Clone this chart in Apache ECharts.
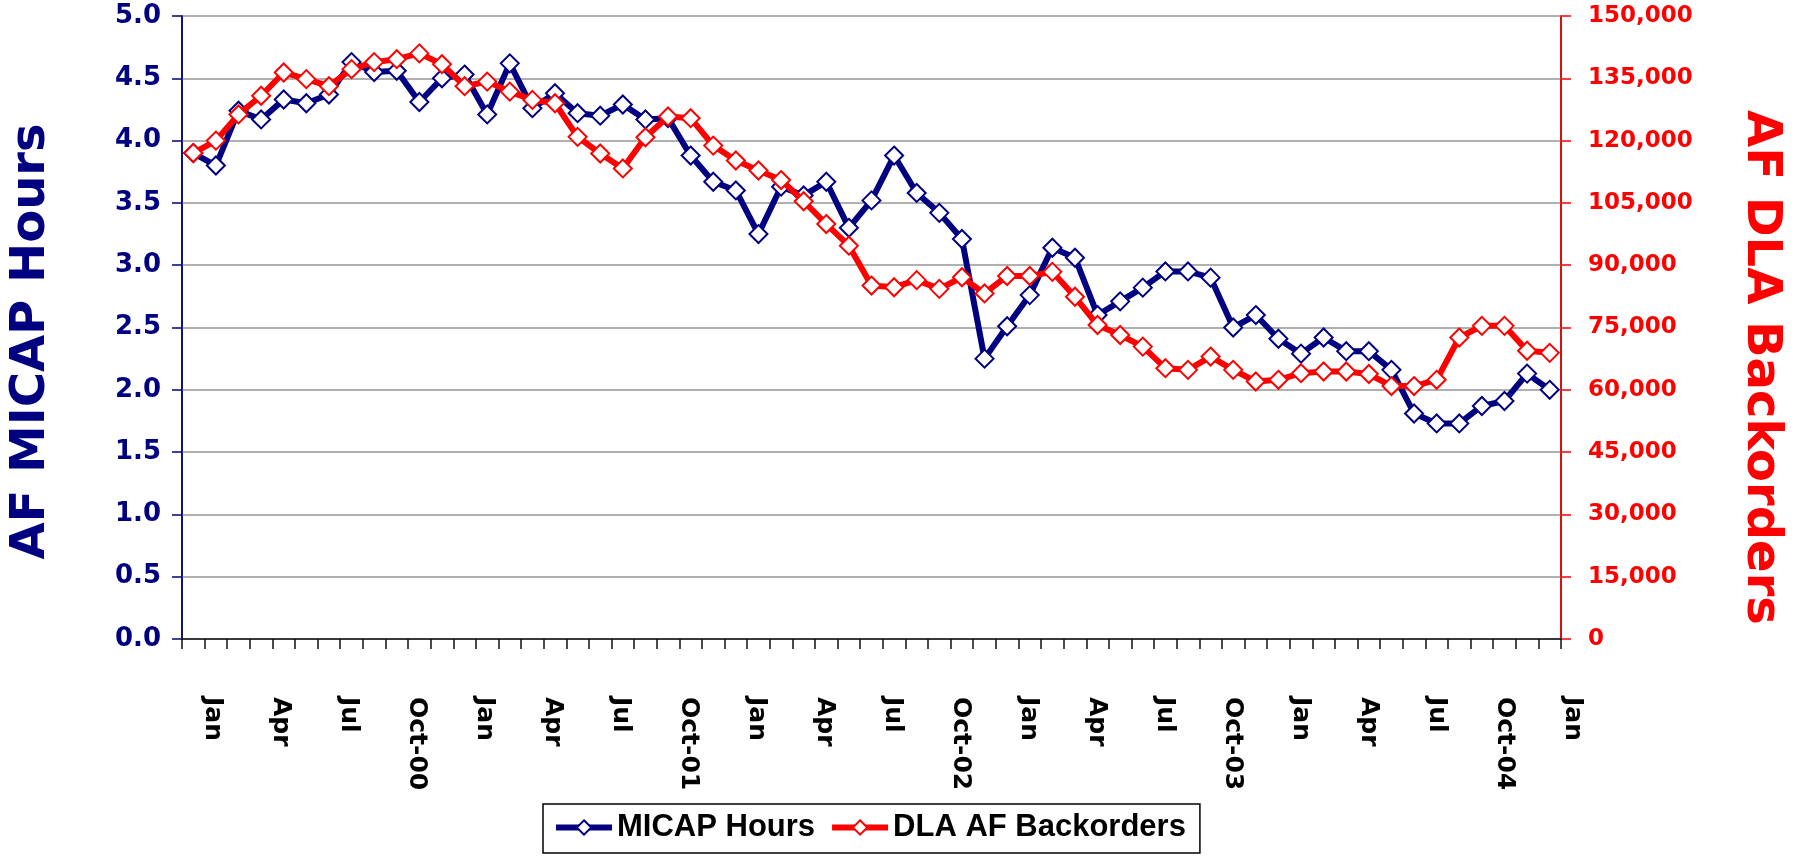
<!DOCTYPE html>
<html>
<head>
<meta charset="utf-8">
<script src="https://cdn.jsdelivr.net/npm/echarts@6/dist/echarts.min.js"></script>
<style>
  html, body { margin: 0; padding: 0; background: #fff; }
  #chart { width: 1800px; height: 856px; }
</style>
</head>
<body>
<div id="chart"></div>
<script>
// month categories, Dec-99 .. Jan-05 (last one only carries a label)
const months = [
  'Dec-99',
  'Jan-00', 'Feb-00', 'Mar-00', 'Apr-00', 'May-00', 'Jun-00', 'Jul-00', 'Aug-00', 'Sep-00', 'Oct-00', 'Nov-00', 'Dec-00',
  'Jan-01', 'Feb-01', 'Mar-01', 'Apr-01', 'May-01', 'Jun-01', 'Jul-01', 'Aug-01', 'Sep-01', 'Oct-01', 'Nov-01', 'Dec-01',
  'Jan-02', 'Feb-02', 'Mar-02', 'Apr-02', 'May-02', 'Jun-02', 'Jul-02', 'Aug-02', 'Sep-02', 'Oct-02', 'Nov-02', 'Dec-02',
  'Jan-03', 'Feb-03', 'Mar-03', 'Apr-03', 'May-03', 'Jun-03', 'Jul-03', 'Aug-03', 'Sep-03', 'Oct-03', 'Nov-03', 'Dec-03',
  'Jan-04', 'Feb-04', 'Mar-04', 'Apr-04', 'May-04', 'Jun-04', 'Jul-04', 'Aug-04', 'Sep-04', 'Oct-04', 'Nov-04', 'Dec-04',
  'Jan-05',
]

// AF MICAP hours (left axis)
const micapHours = [
  3.90,
  3.80, 4.24, 4.17, 4.33, 4.30, 4.37, 4.63, 4.55, 4.56, 4.31, 4.50, 4.53,
  4.21, 4.62, 4.26, 4.38, 4.22, 4.20, 4.29, 4.17, 4.18, 3.88, 3.67, 3.60,
  3.25, 3.63, 3.56, 3.67, 3.30, 3.52, 3.88, 3.58, 3.42, 3.21, 2.25, 2.51,
  2.76, 3.14, 3.06, 2.60, 2.71, 2.82, 2.95, 2.95, 2.90, 2.50, 2.60, 2.41,
  2.29, 2.42, 2.31, 2.31, 2.16, 1.81, 1.73, 1.73, 1.87, 1.91, 2.13, 2.00,
]

// DLA AF backorders (right axis)
const dlaBackorders = [
  117000,
  120000, 126300, 130800, 136400, 134800, 133100, 137200, 138900, 139600, 141000, 138400, 133100,
  134200, 131800, 129800, 129000, 120900, 116900, 113300, 120800, 125800, 125400, 118800, 115200,
  112800, 110500, 105400, 99900, 94700, 85100, 84700, 86400, 84300, 87100, 83200, 87400,
  87400, 88400, 82400, 75600, 73200, 70400, 65200, 64800, 68000, 64800, 62000, 62400,
  64000, 64400, 64400, 63800, 60900, 60900, 62400, 72600, 75400, 75400, 69400, 68900,
]

const NAVY = '#000080'
const RED = '#ff0000'
const FONT = 'DejaVu Sans'

const chart = echarts.init(document.getElementById('chart'))

// plot area: x 179..1561, y 16..639 ; 61 categories
const catWidth = (1561 - 179) / micapHours.length

function monthLabel(v) {
  const [m, y] = v.split('-')
  return m === 'Oct' ? 'Oct-' + y : m
}

const option = {
  animation: false,
  backgroundColor: '#fff',
  grid: [
    { left: 179, right: 239, top: 16, bottom: 217, show: true, borderColor: '#111', borderWidth: 1.5 },
    // label grid, one category wider so the trailing Jan label fits
    { left: 179, right: 1800 - 1561 - catWidth, top: 16, bottom: 217 },
  ],
  legend: {
    left: 543,
    top: 804,
    itemWidth: 56,
    itemHeight: 18,
    itemGap: 14,
    padding: [8, 14, 10, 10],
    borderColor: '#000',
    borderWidth: 1.5,
    backgroundColor: '#fff',
    lineStyle: { width: 6 },
    textStyle: { fontFamily: 'Liberation Sans', fontWeight: 'bold', fontSize: 31, color: '#000' },
    data: ['MICAP Hours', 'DLA AF Backorders'],
  },
  xAxis: [
    {
      type: 'category',
      gridIndex: 0,
      data: months.slice(0, micapHours.length),
      boundaryGap: true,
      axisLine: { lineStyle: { color: '#111', width: 1.5 } },
      axisTick: { show: true, interval: 0, length: 10, lineStyle: { color: '#111', width: 1.5 } },
      axisLabel: { show: false },
      splitLine: { show: false },
    },
    {
      type: 'category',
      gridIndex: 1,
      data: months,
      boundaryGap: true,
      axisLine: { show: false },
      axisTick: { show: false },
      splitLine: { show: false },
      axisLabel: {
        interval: (i) => i % 3 === 1,
        rotate: -90,
        margin: 58,
        fontFamily: FONT,
        fontWeight: 'bold',
        fontSize: 25,
        color: '#000',
        formatter: monthLabel,
      },
    },
  ],
  yAxis: [
    {
      type: 'value',
      gridIndex: 0,
      min: 0,
      max: 5,
      interval: 0.5,
      position: 'left',
      name: 'AF MICAP Hours',
      nameLocation: 'middle',
      nameGap: 126,
      nameRotate: 90,
      nameTextStyle: {
        fontFamily: FONT, fontWeight: 'bold', fontSize: 48, color: NAVY,
        textShadowColor: '#000', textShadowOffsetX: 2, textShadowOffsetY: 2, textShadowBlur: 0,
        padding: [0, 28, 0, 0],
      },
      axisLine: { show: true, lineStyle: { color: NAVY, width: 1.5 } },
      axisTick: { show: true, length: 10, lineStyle: { color: NAVY, width: 1.5 } },
      axisLabel: {
        margin: 21, fontFamily: FONT, fontWeight: 'bold', fontSize: 26, color: NAVY,
        formatter: (v) => v.toFixed(1),
      },
      splitLine: { show: true, lineStyle: { color: '#b0b0b0', width: 2 } },
    },
    {
      type: 'value',
      gridIndex: 0,
      min: 0,
      max: 150000,
      interval: 15000,
      position: 'right',
      name: 'AF DLA Backorders',
      nameLocation: 'middle',
      nameGap: 175,
      nameRotate: -90,
      nameTextStyle: {
        fontFamily: FONT, fontWeight: 'bold', fontSize: 48, color: RED,
        textShadowColor: '#000', textShadowOffsetX: 2, textShadowOffsetY: 2, textShadowBlur: 0,
        padding: [0, 0, 0, 80],
      },
      axisLine: { show: true, lineStyle: { color: RED, width: 1.5 } },
      axisTick: { show: true, length: 10, lineStyle: { color: RED, width: 1.5 } },
      axisLabel: {
        margin: 27, fontFamily: FONT, fontWeight: 'bold', fontSize: 23, color: RED,
        formatter: (v) => v.toLocaleString('en-US'),
      },
      splitLine: { show: false },
    },
    { type: 'value', gridIndex: 1, show: false },
  ],
  series: [
    {
      name: 'MICAP Hours',
      type: 'line',
      xAxisIndex: 0,
      yAxisIndex: 0,
      data: micapHours,
      symbol: 'diamond',
      symbolSize: 18,
      showAllSymbol: true,
      lineStyle: { color: NAVY, width: 6 },
      itemStyle: { color: '#fff', borderColor: NAVY, borderWidth: 2 },
      z: 3,
    },
    {
      name: 'DLA AF Backorders',
      type: 'line',
      xAxisIndex: 0,
      yAxisIndex: 1,
      data: dlaBackorders,
      symbol: 'diamond',
      symbolSize: 18,
      showAllSymbol: true,
      lineStyle: { color: RED, width: 6 },
      itemStyle: { color: '#fff', borderColor: RED, borderWidth: 2 },
      z: 4,
    },
  ],
}

chart.setOption(option)
</script>
</body>
</html>
